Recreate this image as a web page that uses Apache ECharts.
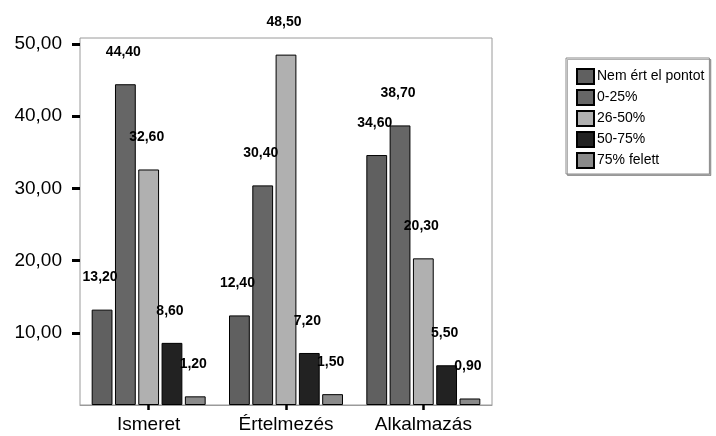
<!DOCTYPE html>
<html>
<head>
<meta charset="utf-8">
<script src="https://cdn.jsdelivr.net/npm/echarts@6/dist/echarts.min.js"></script>
<style>
  html, body { margin: 0; padding: 0; background: #ffffff; }
  #chart { width: 716px; height: 436px; }
</style>
</head>
<body>
<div id="chart"></div>
<script>
// Categories on the x axis
const categories = ['Ismeret', 'Értelmezés', 'Alkalmazás'];

// Series names (legend order)
const seriesNames = ['Nem ért el pontot', '0-25%', '26-50%', '50-75%', '75% felett'];

// Percentages per series, one value per category
const nemErtEl = [13.2, 12.4, 34.6];
const p0_25 = [44.4, 30.4, 38.7];
const p26_50 = [32.6, 48.5, 20.3];
const p50_75 = [8.6, 7.2, 5.5];
const p75felett = [1.2, 1.5, 0.9];

// Y axis tick values
const yTicks = [10, 20, 30, 40, 50];

const seriesValues = [nemErtEl, p0_25, p26_50, p50_75, p75felett];
const seriesColors = ['#606060', '#666666', '#b0b0b0', '#222222', '#8a8a8a'];

const fmt = v => Number(v).toFixed(2).replace('.', ',');

const chart = echarts.init(document.getElementById('chart'), null, { renderer: 'canvas' });

chart.setOption({
  animation: false,
  backgroundColor: '#ffffff',
  textStyle: { fontFamily: 'Liberation Sans, Arial, sans-serif' },
  grid: {
    left: 80, right: 224, top: 38, bottom: 31,
    show: true, borderColor: '#9a9a9a', borderWidth: 1, backgroundColor: 'transparent'
  },
  legend: {
    orient: 'vertical',
    left: 566, top: 58,
    padding: [10, 5, 5, 10],
    itemWidth: 17, itemHeight: 15, itemGap: 4,
    icon: 'rect',
    backgroundColor: '#ffffff',
    borderColor: '#8a8a8a', borderWidth: 1,
    shadowColor: 'rgba(0,0,0,0.3)', shadowOffsetX: 1.5, shadowOffsetY: 1.5, shadowBlur: 0,
    textStyle: { fontSize: 14, lineHeight: 15, color: '#000', padding: [0, 0, 0, -2] },
    data: seriesNames
  },
  xAxis: {
    type: 'category',
    data: categories,
    axisLine: { show: true, lineStyle: { color: '#9a9a9a', width: 1 } },
    axisTick: { show: true, alignWithLabel: true, length: 5, lineStyle: { color: '#000', width: 2.5 } },
    axisLabel: { fontSize: 19, color: '#000', margin: 10 }
  },
  yAxis: {
    type: 'value',
    min: 0, max: 50.8, interval: 10,
    splitLine: { show: false },
    axisLine: { show: false },
    axisTick: { show: true, customValues: yTicks, length: 8, lineStyle: { color: '#000', width: 3 } },
    axisLabel: { customValues: yTicks, fontSize: 19, color: '#000', margin: 18, formatter: v => fmt(v) }
  },
  series: seriesNames.map((name, i) => ({
    name: name,
    type: 'bar',
    data: seriesValues[i],
    barGap: '12%',
    barCategoryGap: '17%',
    itemStyle: { color: seriesColors[i], borderColor: '#000', borderWidth: 1 },
    label: {
      show: true,
      position: 'top',
      distance: 25,
      offset: [-2, 0],
      fontSize: 14,
      fontWeight: 'bold',
      color: '#000',
      formatter: p => fmt(p.value)
    }
  }))
});
</script>
</body>
</html>
